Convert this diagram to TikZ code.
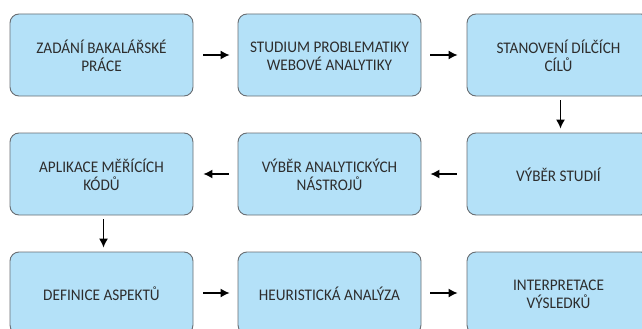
\documentclass[tikz,border=0pt]{standalone}
\usepackage{fontspec}
\setmainfont{Carlito}[FakeStretch=0.94]
\usetikzlibrary{arrows.meta}
\definecolor{boxfill}{RGB}{180,225,248}
\definecolor{boxline}{RGB}{105,110,115}
\definecolor{txt}{RGB}{45,45,45}
\newcommand{\bxt}[1]{\raisebox{-3pt}[\height][\depth]{\begin{tabular}{@{}c@{}}#1\end{tabular}}}
\begin{document}
\begin{tikzpicture}[x=1pt,y=-1pt,
  stepbox/.style={draw=boxline, line width=0.9pt, fill=boxfill, rounded corners=9pt,
    minimum width=183pt, minimum height=82pt, inner sep=0pt,
    text=txt, font=\fontsize{16.2}{14.5}\selectfont},
  arr/.style={-{Latex[length=9pt,width=9pt]}, line width=1.3pt, black}]
\clip (0,0) rectangle (642,329);
\fill[white] (0,0) rectangle (642,329);
\node[stepbox] (b1) at (101.5,55) {\bxt{ZADÁNÍ BAKALÁŘSKÉ\\PRÁCE}};
\node[stepbox] (b2) at (329.5,55) {\bxt{STUDIUM PROBLEMATIKY\\WEBOVÉ ANALYTIKY}};
\node[stepbox] (b3) at (558.5,55) {\bxt{STANOVENÍ DÍLČÍCH\\CÍLŮ}};
\node[stepbox] (b6) at (101.5,174) {\bxt{APLIKACE MĚŘÍCÍCH\\KÓDŮ}};
\node[stepbox] (b5) at (329.5,174) {\bxt{VÝBĚR ANALYTICKÝCH\\NÁSTROJŮ}};
\node[stepbox] (b4) at (558.5,174) {\bxt{VÝBĚR STUDIÍ}};
\node[stepbox] (b7) at (101.5,293) {\bxt{DEFINICE ASPEKTŮ}};
\node[stepbox] (b8) at (329.5,293) {\bxt{HEURISTICKÁ ANALÝZA}};
\node[stepbox] (b9) at (558.5,293) {\bxt{INTERPRETACE\\VÝSLEDKŮ}};
\draw[arr, shorten <=10pt, shorten >=8pt] (b1) -- (b2);
\draw[arr, shorten <=9pt, shorten >=9pt] (b2) -- (b3);
\draw[arr, shorten <=4pt, shorten >=4pt] ([xshift=2pt]b3.south) -- ([xshift=2pt]b4.north);
\draw[arr, shorten <=10pt, shorten >=9pt] (b4) -- (b5);
\draw[arr, shorten <=9pt, shorten >=10pt] (b5) -- (b6);
\draw[arr, shorten <=4pt, shorten >=4pt] ([xshift=2pt]b6.south) -- ([xshift=2pt]b7.north);
\draw[arr, shorten <=10pt, shorten >=8pt] (b7) -- (b8);
\draw[arr, shorten <=9pt, shorten >=9pt] (b8) -- (b9);
\end{tikzpicture}
\end{document}
